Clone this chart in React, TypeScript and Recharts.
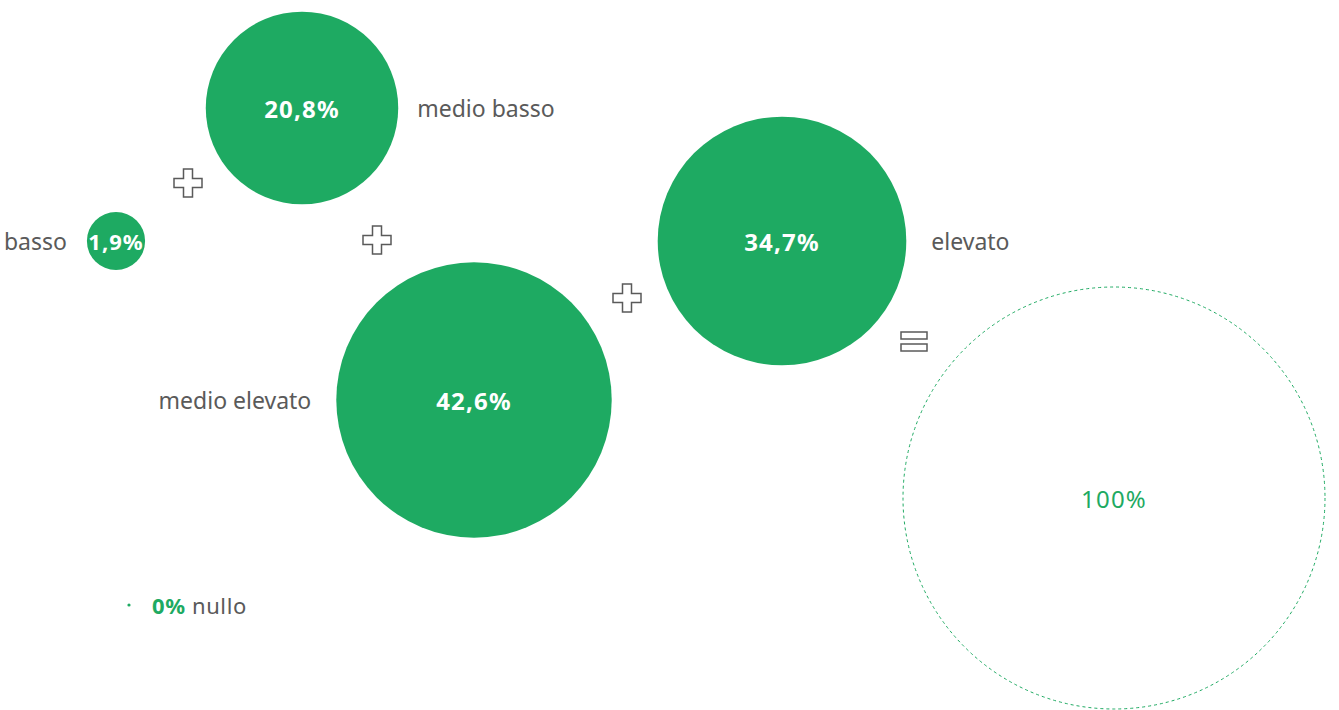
import React from 'react'
import { ScatterChart, Scatter, XAxis, YAxis, ZAxis } from 'recharts'

// shares by level, in percent; bubble area is proportional to the share
const levels = ['basso', 'medio basso', 'medio elevato', 'elevato', 'totale']
const shares = [1.9, 20.8, 42.6, 34.7, 100]
const shareLabels = ['1,9%', '20,8%', '42,6%', '34,7%', '100%']
const labelSide = ['left', 'right', 'left', 'right', 'none']
const posX = [116, 302, 474, 782, 1114]
const posY = [241, 108, 400, 241, 498]

// operators between bubbles
const opSymbols = ['+', '+', '+', '=']
const opX = [188, 377, 627, 914]
const opY = [183, 240, 298, 342]

// empty category
const nullLevel = { label: 'nullo', share: '0%', x: 129, y: 605 }

const W = 1339
const H = 710
const GREEN = '#1eaa62'
const GRAY = '#5a5a5a'
const FONT = '"Noto Sans", "Open Sans", sans-serif'
const MAX_R = 211

const bubbles = levels.map((name, i) => ({
  name,
  x: posX[i],
  y: posY[i],
  z: shares[i],
  text: shareLabels[i],
  side: labelSide[i],
  total: name === 'totale',
}))

const ops = opSymbols.map((s, i) => ({ x: opX[i], y: opY[i], sym: s }))

const BubbleShape = (props: any) => {
  const { cx, cy, size, payload } = props
  const r = Math.sqrt((size || 0) / Math.PI)
  const gap = payload.side === 'left' ? (payload.name === 'basso' ? 20 : 25) : payload.name === 'medio basso' ? 19 : 25
  const small = payload.name === 'basso'
  return (
    <g>
      {payload.total ? (
        <circle cx={cx} cy={cy} r={r} fill="none" stroke={GREEN} strokeWidth={1} strokeDasharray="3 3" />
      ) : (
        <circle cx={cx} cy={cy} r={r} fill={GREEN} />
      )}
      <text
        x={cx}
        y={cy}
        textAnchor="middle"
        dominantBaseline="central"
        fontFamily={FONT}
        fontSize={small ? 22 : 24}
        letterSpacing={small ? 1 : 1.2}
        fontWeight={payload.total ? 400 : 700}
        fill={payload.total ? GREEN : '#fff'}
      >
        {payload.text}
      </text>
      {payload.side !== 'none' && (
        <text
          x={payload.side === 'left' ? cx - r - gap : cx + r + gap}
          y={cy}
          textAnchor={payload.side === 'left' ? 'end' : 'start'}
          dominantBaseline="central"
          fontFamily={FONT}
          fontSize={23}
          fill={GRAY}
        >
          {payload.name}
        </text>
      )}
    </g>
  )
}

const OpShape = (props: any) => {
  const { cx, cy, payload } = props
  if (payload.sym === '=') {
    return (
      <g fill="#fff" stroke={GRAY} strokeWidth={1.5}>
        <rect x={cx - 13} y={cy - 10} width={26} height={7} />
        <rect x={cx - 13} y={cy + 2} width={26} height={7} />
      </g>
    )
  }
  const a = 14
  const t = 4.5
  const d = `M${cx - t},${cy - a} H${cx + t} V${cy - t} H${cx + a} V${cy + t} H${cx + t} V${cy + a} H${cx - t} V${cy + t} H${cx - a} V${cy - t} H${cx - t} Z`
  return <path d={d} fill="#fff" stroke={GRAY} strokeWidth={1.5} />
}

const NullShape = (props: any) => {
  const { cx, cy } = props
  return (
    <g>
      <circle cx={cx} cy={cy} r={1.6} fill={GREEN} />
      <text x={cx + 23} y={cy} dominantBaseline="central" fontFamily={FONT} fontSize={22} letterSpacing={0.6}>
        <tspan fill={GREEN} fontWeight={700}>{nullLevel.share}</tspan>
        <tspan fill={GRAY}> {nullLevel.label}</tspan>
      </text>
    </g>
  )
}

export default function App() {
  return (
    <div style={{ position: 'absolute', left: 0, top: 0, width: W, height: H, background: '#fff' }}>
      <ScatterChart width={W} height={H} margin={{ top: 0, right: 0, bottom: 0, left: 0 }}>
        <XAxis type="number" dataKey="x" domain={[0, W]} hide />
        <YAxis type="number" dataKey="y" domain={[0, H]} reversed hide />
        <ZAxis type="number" dataKey="z" domain={[0, 100]} range={[0, Math.PI * MAX_R * MAX_R]} />
        <Scatter data={ops} shape={OpShape} isAnimationActive={false} />
        <Scatter data={bubbles} shape={BubbleShape} isAnimationActive={false} />
        <Scatter data={[nullLevel]} shape={NullShape} isAnimationActive={false} />
      </ScatterChart>
    </div>
  )
}
